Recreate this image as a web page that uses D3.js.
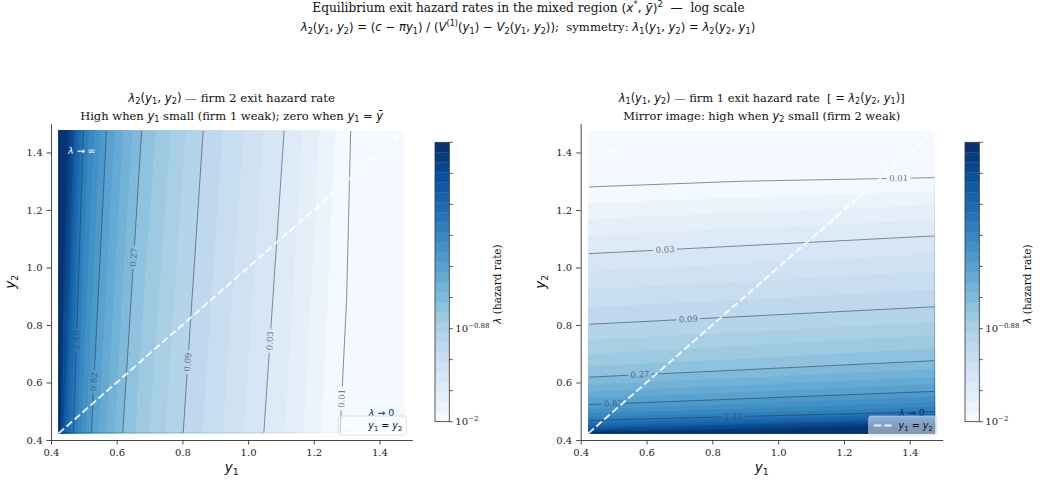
<!DOCTYPE html>
<html>
<head>
<meta charset="utf-8">
<script src="https://cdn.jsdelivr.net/npm/d3@7"></script>
<style>
  body { margin: 0; background: #fff; }
  svg { display: block; }
  text { white-space: pre; }
</style>
</head>
<body>
<div id="chart"></div>
<script>
// log10(lambda_2), on columns of y1 and two rows of y2
var y1Cols = [0.423, 0.435, 0.45, 0.47, 0.50, 0.53, 0.57, 0.62, 0.68, 0.75, 0.82, 0.90, 0.98, 1.05, 1.12, 1.20, 1.26, 1.30, 1.35, 1.477];
var y2Rows = [0.423, 1.477];
var logLamBottom = [1.40, 0.87, 0.62, 0.37, 0.08, -0.13, -0.34, -0.57, -0.76, -0.93, -1.08, -1.24, -1.39, -1.525, -1.66, -1.83, -1.96, -2.04, -2.3, -2.5];
var logLamTop    = [1.95, 1.60, 1.25, 0.82, 0.38, 0.16, -0.09, -0.33, -0.58, -0.77, -0.95, -1.12, -1.27, -1.41, -1.54, -1.72, -1.87, -1.95, -2.15, -2.5];

// colour levels: 29 log-spaced levels from 1e-2 to ~22.5, lines on every 4th
var logMin = -2, logMax = 1.352, nLevels = 29;
var lineLabels = ["0.01", "0.03", "0.09", "0.27", "0.82", "2.48", "7.47"];
var labelAtLeft = [0.545, 0.745, 0.671, 1.035, 0.603, 0.748, 0.812];   // y2 of each label, left panel
var labelAtRight = [1.366, 0.656, 0.727, 0.580, 0.499, 0.864, 0.641];  // y1 of each label, right panel
var axisTicks = [0.4, 0.6, 0.8, 1.0, 1.2, 1.4];
var cbTickLabels = ["−2", "", "", "−0.88", "", "", "", "", "", ""];

var W = 1040, H = 481;
var svg = d3.select("#chart").append("svg").attr("width", W).attr("height", H);
var defs = svg.append("defs");

var blues = d3.scaleLinear()
  .domain(d3.range(9).map(function(i) { return i / 8; }))
  .range(["#f7fbff", "#deebf7", "#c6dbef", "#9ecae1", "#6baed6", "#4292c6", "#2171b5", "#08519c", "#08306b"])
  .interpolate(d3.interpolateRgb).clamp(true);

var logLevels = d3.range(nLevels).map(function(i) { return logMin + i * (logMax - logMin) / (nLevels - 1); });
var bandColor = d3.range(nLevels - 1).map(function(i) {
  var mid = Math.log10((Math.pow(10, logLevels[i]) + Math.pow(10, logLevels[i + 1])) / 2);
  return blues((mid - logMin) / (logMax - logMin));
});
var lineIdx = [0, 4, 8, 12, 16, 20, 24];

var n = y1Cols.length, m = y2Rows.length;
var values = logLamBottom.concat(logLamTop);
var colScale = d3.scaleLinear().domain(d3.range(n)).range(y1Cols);
var rowScale = d3.scaleLinear().domain(d3.range(m)).range(y2Rows);
function gridToData(c, r) {
  return [colScale(Math.max(0, Math.min(n - 1, c - 0.5))), rowScale(Math.max(0, Math.min(m - 1, r - 0.5)))];
}

var fillContours = d3.contours().size([n, m]).thresholds(logLevels.slice(1, nLevels - 1))(values);
var lineContours = d3.contours().size([n, m]).thresholds(lineIdx.map(function(i) { return logLevels[i]; }))(values);

// small mathtext-like renderer: $...$ is math, _x / ^{..} sub/superscripts
var MATH = 1.0;
function rich(sel, str, size) {
  var off = 0;
  function put(txt, o) {
    var fs = o.math ? size * MATH : size;
    var t = sel.append("tspan").text(txt)
      .attr("font-family", o.math ? "DejaVu Sans" : "DejaVu Serif")
      .attr("font-style", o.ital ? "italic" : "normal")
      .attr("font-size", (o.small ? fs * 0.7 : fs) + "px");
    var target = o.shift || 0;
    if (target !== off) { t.attr("dy", target - off); off = target; }
  }
  str.split("$").forEach(function(part, k) {
    if (k % 2 === 0) { if (part) put(part, {}); return; }
    var i = 0;
    while (i < part.length) {
      var c = part[i], shift = 0, small = false, chunk, j;
      if (c === "_" || c === "^") {
        small = true;
        shift = c === "_" ? size * 0.24 : -size * 0.45;
        if (part[i + 1] === "{") { j = part.indexOf("}", i); chunk = part.slice(i + 2, j); i = j + 1; }
        else { chunk = part[i + 1]; i += 2; }
      } else {
        j = i;
        while (j < part.length && part[j] !== "_" && part[j] !== "^") j++;
        chunk = part.slice(i, j); i = j;
      }
      chunk.match(/[A-Za-zλπ\u0233]+|[^A-Za-zλπ\u0233]+/g).forEach(function(s) {
        put(s, { math: true, ital: /[A-Za-zλπ\u0233]/.test(s[0]), small: small, shift: shift });
      });
    }
  });
}

// opts.width: the line's width; font size is fitted to it
function addText(x, y, str, size, opts) {
  opts = opts || {};
  var t = svg.append("text").attr("x", x).attr("y", y)
    .attr("text-anchor", opts.anchor || "middle")
    .attr("fill", opts.fill || "#111");
  if (opts.rotate) t.attr("transform", "rotate(" + opts.rotate + "," + x + "," + y + ")");
  rich(t, str, size);
  if (opts.width) {
    var w = t.node().getBBox().width;
    t.selectAll("tspan").remove();
    rich(t, str, size * opts.width / w);
  }
  return t;
}

// main titles
addText(528.5, 12, "Equilibrium exit hazard rates in the mixed region $(x^*, \u0233)^2$  —  log scale", 12, { width: 433 });
addText(528, 31, "$λ_2(y_1, y_2) = (c − πy_1) / (V^{(1)}(y_1) − V_2(y_1, y_2))$;  symmetry: $λ_1(y_1, y_2) = λ_2(y_2, y_1)$", 12, { width: 456 });

var axTop = 123.7, axBottom = 440;

function ringPath(geom, proj) {
  return geom.coordinates.map(function(poly) {
    return poly.map(function(ring) {
      return "M" + ring.map(function(p) { return proj(p).join(","); }).join("L") + "Z";
    }).join("");
  }).join("");
}

function drawPanel(p) {
  var x = d3.scaleLinear().domain([0.4, 1.5]).range([p.left, p.right]);
  var y = d3.scaleLinear().domain([0.4, 1.5]).range([axBottom, axTop]);
  function proj(pt) {
    var d = gridToData(pt[0], pt[1]);
    return p.swap ? [x(d[1]), y(d[0])] : [x(d[0]), y(d[1])];
  }
  var rx0 = x(y1Cols[0]), rx1 = x(y1Cols[n - 1]);
  var ry0 = y(y2Rows[m - 1]), ry1 = y(y2Rows[0]);

  defs.append("clipPath").attr("id", p.id + "-clip").append("rect")
    .attr("x", rx0).attr("y", ry0).attr("width", rx1 - rx0).attr("height", ry1 - ry0);
  defs.append("clipPath").attr("id", p.id + "-clipin").append("rect")
    .attr("x", rx0 + 0.7).attr("y", ry0 + 0.7).attr("width", rx1 - rx0 - 1.4).attr("height", ry1 - ry0 - 1.4);

  var g = svg.append("g").attr("clip-path", "url(#" + p.id + "-clip)");
  g.append("rect").attr("x", rx0).attr("y", ry0).attr("width", rx1 - rx0).attr("height", ry1 - ry0)
    .attr("fill", bandColor[0]);
  g.selectAll("path.band").data(fillContours).join("path")
    .attr("class", "band")
    .attr("d", function(c) { return ringPath(c, proj); })
    .attr("fill-rule", "evenodd")
    .attr("fill", function(c, i) { return bandColor[i + 1]; })
    .attr("stroke", function(c, i) { return bandColor[i + 1]; })
    .attr("stroke-width", 0.3);

  // contour labels: find where each line crosses the label's scan line
  var labels = [];
  lineContours.forEach(function(c, li) {
    var at = p.swap ? x(p.labelAt[li]) : y(p.labelAt[li]);
    var k = p.swap ? 0 : 1;
    var best = null;
    c.coordinates.forEach(function(poly) {
      poly.forEach(function(ring) {
        var pts = ring.map(proj);
        for (var i = 0; i < pts.length - 1 && !best; i++) {
          var a = pts[i], b = pts[i + 1];
          if ((a[k] - at) * (b[k] - at) > 0 || a[k] === b[k]) continue;
          // skip segments on the data frame
          if (k === 1 && ((Math.abs(a[0] - rx0) < 0.5 && Math.abs(b[0] - rx0) < 0.5) || (Math.abs(a[0] - rx1) < 0.5 && Math.abs(b[0] - rx1) < 0.5))) continue;
          if (k === 0 && ((Math.abs(a[1] - ry0) < 0.5 && Math.abs(b[1] - ry0) < 0.5) || (Math.abs(a[1] - ry1) < 0.5 && Math.abs(b[1] - ry1) < 0.5))) continue;
          var t = (at - a[k]) / (b[k] - a[k]);
          var ang = Math.atan2(b[1] - a[1], b[0] - a[0]) * 180 / Math.PI;
          if (ang > 90) ang -= 180;
          if (ang <= -90) ang += 180;
          best = { x: a[0] + t * (b[0] - a[0]), y: a[1] + t * (b[1] - a[1]), ang: ang };
        }
      });
    });
    if (best) { best.text = lineLabels[li]; labels.push(best); }
  });

  var mask = defs.append("mask").attr("id", p.id + "-mask").attr("maskUnits", "userSpaceOnUse")
    .attr("x", 0).attr("y", 0).attr("width", W).attr("height", H);
  mask.append("rect").attr("width", W).attr("height", H).attr("fill", "#fff");

  var lg = svg.append("g").attr("clip-path", "url(#" + p.id + "-clipin)");
  lg.append("g").attr("mask", "url(#" + p.id + "-mask)")
    .selectAll("path").data(lineContours).join("path")
    .attr("d", function(c) { return ringPath(c, proj); })
    .attr("fill", "none")
    .attr("stroke", "#2a3854")
    .attr("stroke-opacity", 0.65)
    .attr("stroke-width", 0.85);

  labels.forEach(function(l) {
    var t = svg.append("text")
      .attr("transform", "translate(" + l.x + "," + l.y + ") rotate(" + l.ang + ")")
      .attr("text-anchor", "middle").attr("dy", "0.33em")
      .attr("font-family", "DejaVu Serif").attr("font-size", "8.5px")
      .attr("fill", "#3f4d68").attr("fill-opacity", 0.8)
      .text(l.text);
    var w = t.node().getComputedTextLength() + 5;
    mask.append("rect")
      .attr("x", -w / 2).attr("y", -4).attr("width", w).attr("height", 8)
      .attr("transform", "translate(" + l.x + "," + l.y + ") rotate(" + l.ang + ")")
      .attr("fill", "#000");
  });

  // diagonal y1 = y2
  svg.append("line")
    .attr("x1", x(y1Cols[0])).attr("y1", y(y1Cols[0]))
    .attr("x2", x(y1Cols[n - 1])).attr("y2", y(y1Cols[n - 1]))
    .attr("stroke", "#fff").attr("stroke-width", 2).attr("stroke-opacity", 0.85)
    .attr("stroke-dasharray", "7.4,3.2");

  // annotations
  addText(p.left + 17, 153.5, "$λ → ∞$", 9.5, { anchor: "start", fill: "#fff" });
  addText(p.right - 18, 415.5, "$λ → 0$", 9.5, { anchor: "end", fill: "#08306b" });

  // legend
  var lx1 = p.right - 6, lx0 = lx1 - 68, ly1 = axBottom - 5, ly0 = ly1 - 19;
  svg.append("rect").attr("x", lx0).attr("y", ly0).attr("width", lx1 - lx0).attr("height", ly1 - ly0)
    .attr("rx", 2.5).attr("fill", "#fff").attr("fill-opacity", 0.5)
    .attr("stroke", "#d0d0d0").attr("stroke-opacity", 0.8).attr("stroke-width", 0.8);
  svg.append("line").attr("x1", lx0 + 5).attr("x2", lx0 + 25).attr("y1", (ly0 + ly1) / 2).attr("y2", (ly0 + ly1) / 2)
    .attr("stroke", "#fff").attr("stroke-width", 2).attr("stroke-opacity", 0.85).attr("stroke-dasharray", "7.4,3.2");
  addText(lx1 - 4, (ly0 + ly1) / 2 + 3.5, "$y_1 = y_2$", 9.6, { anchor: "end", fill: "#111" });

  // axes
  var xAxis = svg.append("g").attr("transform", "translate(0," + axBottom + ")")
    .call(d3.axisBottom(x).tickValues(axisTicks).tickFormat(d3.format(".1f")).tickSize(4.5).tickSizeOuter(0).tickPadding(4));
  var yAxis = svg.append("g").attr("transform", "translate(" + p.left + ",0)")
    .call(d3.axisLeft(y).tickValues(axisTicks).tickFormat(d3.format(".1f")).tickSize(4.5).tickSizeOuter(0).tickPadding(4));
  [xAxis, yAxis].forEach(function(a) {
    a.selectAll("text").attr("font-family", "DejaVu Serif").attr("font-size", "10px").attr("fill", "#222");
    a.selectAll("line, path").attr("stroke", "#333").attr("stroke-width", 0.9);
  });

  addText((p.left + p.right) / 2, 472, "$y_1$", 13.5);
  addText(p.left - 36, (axTop + axBottom) / 2, "$y_2$", 13.5, { rotate: -90 });

  // titles
  var cx = (p.left + p.right) / 2;
  addText(cx, 101.5, p.title1, 11.4, { width: p.w1 });
  addText(cx, 119.5, p.title2, 11.4, { width: p.w2 });

  // colourbar
  var cbTop = 142.3, cbBottom = 421.7, cbW = 14.3;
  var cbY = d3.scaleLinear().domain([logMin, logMax]).range([cbBottom, cbTop]);
  var cb = svg.append("g");
  cb.selectAll("rect").data(bandColor).join("rect")
    .attr("x", p.cbX).attr("width", cbW)
    .attr("y", function(c, i) { return cbY(logLevels[i + 1]); })
    .attr("height", function(c, i) { return cbY(logLevels[i]) - cbY(logLevels[i + 1]) + 0.3; })
    .attr("fill", function(c) { return c; });
  cb.append("rect").attr("x", p.cbX).attr("y", cbTop).attr("width", cbW).attr("height", cbBottom - cbTop)
    .attr("fill", "none").attr("stroke", "#333").attr("stroke-width", 0.8);
  var cbTicks = d3.range(cbTickLabels.length).map(function(i) {
    return logMin + i * (logMax - logMin) / (cbTickLabels.length - 1);
  });
  cbTicks.forEach(function(v, i) {
    cb.append("line").attr("x1", p.cbX + cbW).attr("x2", p.cbX + cbW + 3.5)
      .attr("y1", cbY(v)).attr("y2", cbY(v)).attr("stroke", "#333").attr("stroke-width", 0.8);
    if (cbTickLabels[i]) {
      var t = cb.append("text").attr("x", p.cbX + cbW + 6).attr("y", cbY(v) + 3.5)
        .attr("font-family", "DejaVu Serif").attr("font-size", "10px").attr("fill", "#222");
      t.append("tspan").text("10");
      t.append("tspan").attr("dy", -4.5).attr("font-size", "7px").text(cbTickLabels[i]);
    }
  });
  addText(p.cbX + 66, (cbTop + cbBottom) / 2 + 2, "$λ$ (hazard rate)", 10.5, { rotate: -90 });
}

drawPanel({
  id: "left", left: 51, right: 412.3, swap: false, cbX: 435, labelAt: labelAtLeft,
  title1: "$λ_2(y_1, y_2)$ — firm 2 exit hazard rate", w1: 208,
  title2: "High when $y_1$ small (firm 1 weak); zero when $y_1 = \u0233$", w2: 303
});
drawPanel({
  id: "right", left: 580.7, right: 942.7, swap: true, cbX: 965, labelAt: labelAtRight,
  title1: "$λ_1(y_1, y_2)$ — firm 1 exit hazard rate  [$ = λ_2(y_2, y_1)$]", w1: 287,
  title2: "Mirror image: high when $y_2$ small (firm 2 weak)", w2: 277
});
</script>
</body>
</html>
